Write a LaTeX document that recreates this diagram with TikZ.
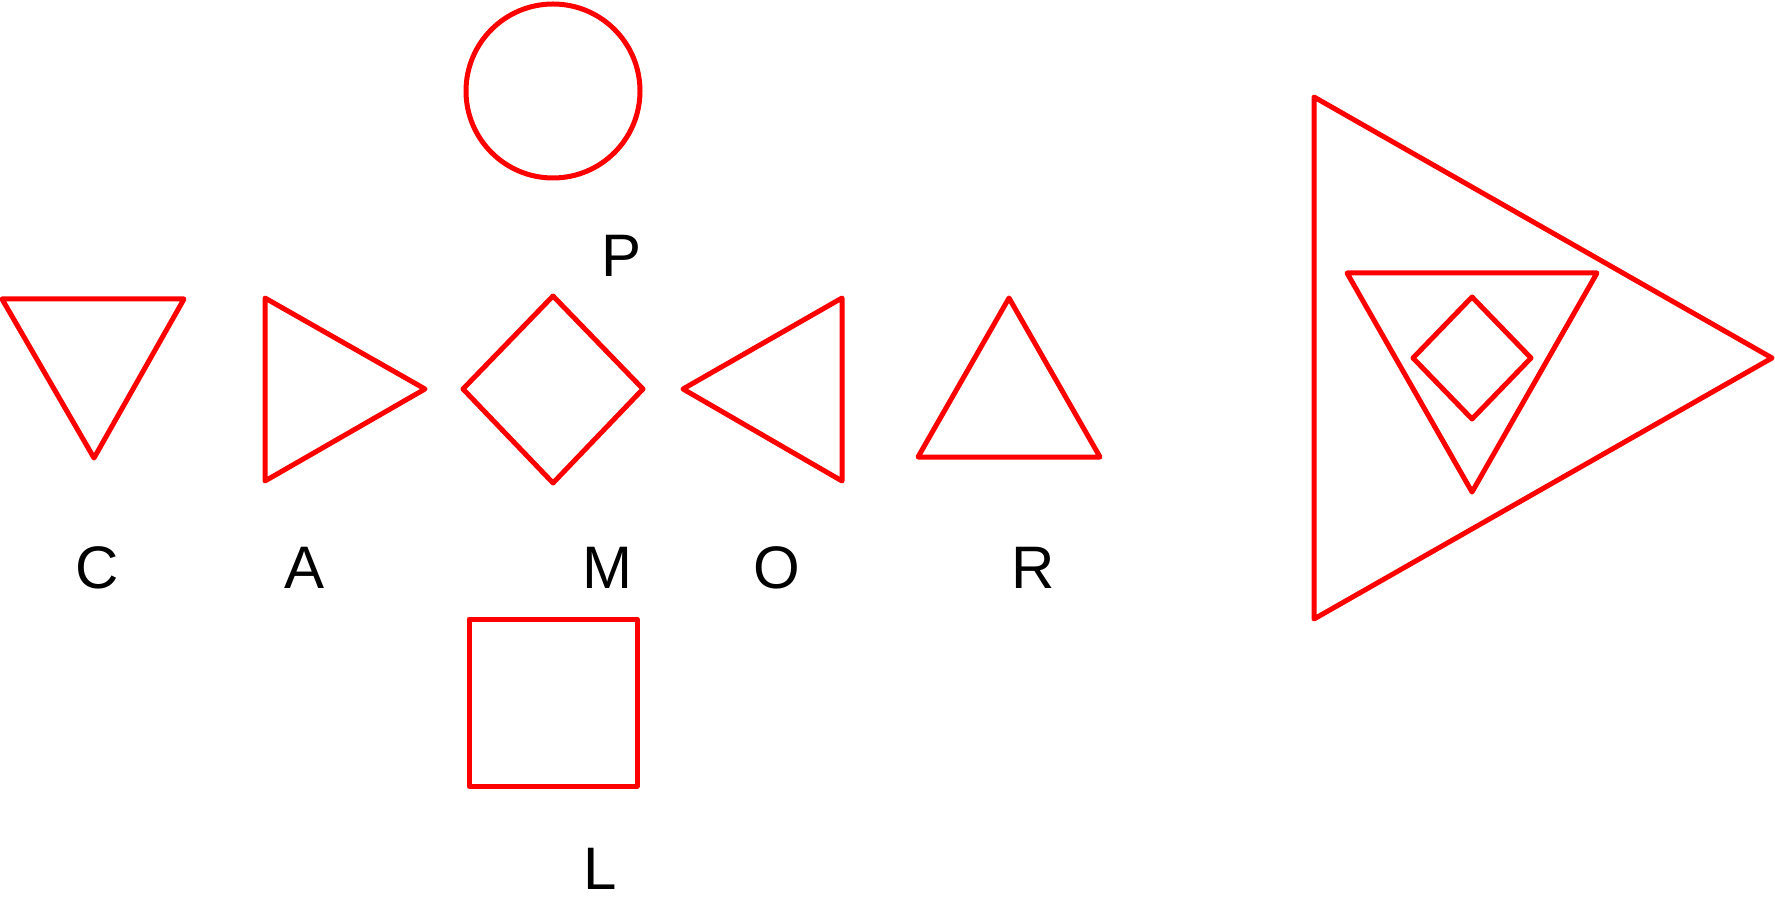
\documentclass[tikz,border=0pt]{standalone}
\usepackage{fontspec}
\setmainfont{Liberation Sans}
\usetikzlibrary{positioning}

\begin{document}
\begin{tikzpicture}[
        x=0.5pt, y=-0.5pt,
        fig/.style={draw=red, line width=2.5pt, line join=round, line cap=round},
        lbl/.style={font=\fontsize{30}{30}\selectfont, inner sep=0pt, anchor=center}
    ]
        \useasboundingbox (0,0) rectangle (1775,897);
        %=================== row of figures ===================
        % C: triangle pointing down
        \draw[fig] (2,299) -- (184,299) -- (94,458) -- cycle;
        % A: triangle pointing right
        \draw[fig] (265,298) -- (425,389) -- (265,481) -- cycle;
        % M: diamond
        \draw[fig] (553,296) -- (643,389) -- (553,483) -- (463,389) -- cycle;
        % O: triangle pointing left
        \draw[fig] (842,298) -- (683,389) -- (842,481) -- cycle;
        % R: triangle pointing up
        \draw[fig] (1009,298) -- (1100,457) -- (918,457) -- cycle;
        % P: circle above, L: square below
        \draw[fig] (553,91) circle[radius=87];
        \draw[fig] (469,619) rectangle (637,786);

        %=================== nested figure ===================
        \draw[fig] (1314,97) -- (1772,358) -- (1314,619) -- cycle;
        \draw[fig] (1347,273) -- (1597,273) -- (1472,492) -- cycle;
        \draw[fig] (1472,297) -- (1531,358) -- (1472,419) -- (1413,358) -- cycle;

        %=================== letters ===================
        \node[lbl] (lc) at (97,568) {C};
        \node[lbl] (la) at (305,568) {A};
        \node[lbl] (lm) at (607,568) {M};
        \node[lbl] (lo) at (777,568) {O};
        \node[lbl] (lr) at (1033,568) {R};
        \node[lbl] (lp) at (621,256) {P};
        \node[lbl] (ll) at (600,869) {L};
    \end{tikzpicture}
\end{document}
